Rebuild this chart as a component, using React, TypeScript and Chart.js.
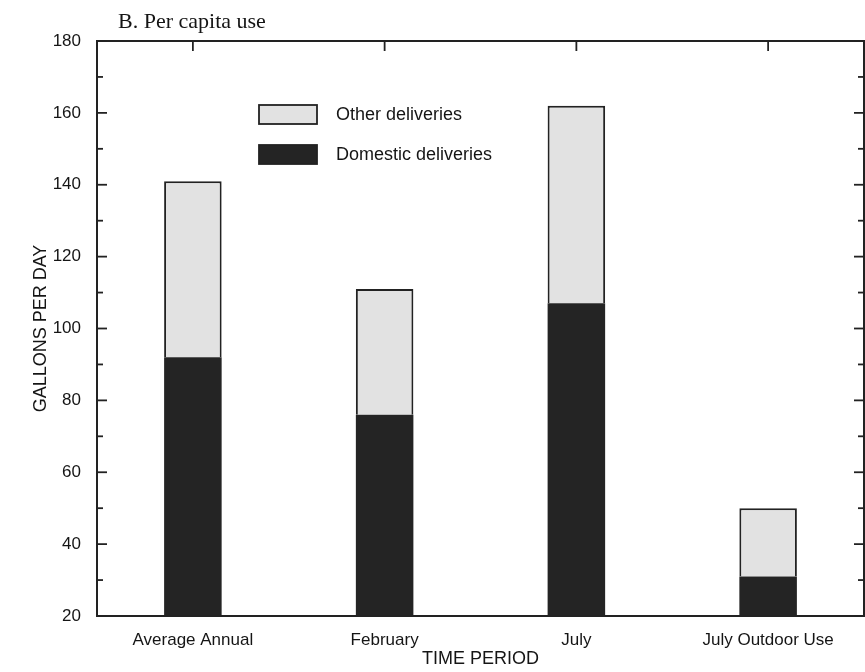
import { useEffect, useRef } from "react";
import { Chart, registerables } from "chart.js";

Chart.register(...registerables);

// ---- Data ----
const titleText = "B. Per capita use";
const categories = ["Average Annual", "February", "July", "July Outdoor Use"];
const domesticDeliveries = [92, 76, 107, 31];
const otherDeliveries = [49, 35, 55, 19];
const seriesLabels = ["Domestic deliveries", "Other deliveries"];
const yMin = 20;
const yMax = 180;
const yMinorStep = 10;
const yMajorStep = 20;
const xAxisTitle = "TIME PERIOD";
const yAxisTitle = "GALLONS PER DAY";

const INK = "#222222";
const TEXT = "#151515";
const DARK = "#242424";
const LIGHT = "#e2e2e2";
const SANS = "'Liberation Sans', Arial, Helvetica, sans-serif";
const SERIF = "'Liberation Serif', 'Times New Roman', serif";

const framePlugin = {
  id: "frame",
  afterDatasetsDraw(chart: any) {
    const { ctx, chartArea, scales } = chart;
    const { left, right, top, bottom } = chartArea;
    const x = scales.x;
    const y = scales.y;
    ctx.save();
    ctx.strokeStyle = INK;
    ctx.lineWidth = 2;
    ctx.strokeRect(left, top, right - left, bottom - top);
    ctx.lineWidth = 1.8;
    const line = (x1: number, y1: number, x2: number, y2: number) => {
      ctx.beginPath();
      ctx.moveTo(x1, y1);
      ctx.lineTo(x2, y2);
      ctx.stroke();
    };
    y.ticks.forEach((t: any) => {
      const py = y.getPixelForValue(t.value);
      const major = t.value % yMajorStep === 0;
      const len = major ? 10 : 6;
      line(left, py, left + len, py);
      line(right, py, right - len, py);
    });
    x.ticks.forEach((_t: any, i: number) => {
      const px = x.getPixelForTick(i);
      line(px, top, px, top + 10);
    });
    ctx.restore();
  },
  afterDraw(chart: any) {
    const { ctx, chartArea } = chart;
    const ds = chart.data.datasets;
    ctx.save();
    // Title
    ctx.fillStyle = TEXT;
    ctx.font = `22px ${SERIF}`;
    ctx.textBaseline = "alphabetic";
    ctx.textAlign = "left";
    ctx.fillText(titleText, chartArea.left + 21, 28);
    // Legend (Other first, then Domestic)
    const order = [1, 0];
    const boxX = chartArea.left + 162;
    const boxW = 58;
    const boxH = 19;
    const rowTops = [chartArea.top + 64, chartArea.top + 104];
    ctx.font = `18px ${SANS}`;
    ctx.textBaseline = "middle";
    order.forEach((di, row) => {
      const d = ds[di];
      const by = rowTops[row];
      ctx.fillStyle = d.backgroundColor;
      ctx.fillRect(boxX, by, boxW, boxH);
      ctx.strokeStyle = INK;
      ctx.lineWidth = 1.8;
      ctx.strokeRect(boxX, by, boxW, boxH);
      ctx.fillStyle = TEXT;
      ctx.fillText(d.label, boxX + boxW + 19, by + boxH / 2 + 1);
    });
    ctx.restore();
  },
};

export default function App() {
  const ref = useRef<HTMLCanvasElement | null>(null);
  useEffect(() => {
    if (!ref.current) return;
    const chart = new Chart(ref.current, {
      type: "bar",
      data: {
        labels: categories,
        datasets: [
          {
            label: seriesLabels[0],
            data: domesticDeliveries,
            backgroundColor: DARK,
            borderColor: DARK,
            borderWidth: 0,
          },
          {
            label: seriesLabels[1],
            data: otherDeliveries,
            backgroundColor: LIGHT,
            borderColor: INK,
            borderWidth: 2,
            borderSkipped: "start",
          },
        ],
      },
      options: {
        responsive: false,
        animation: false,
        devicePixelRatio: 1,
        layout: { padding: { top: 41, right: 1, left: 0, bottom: 0 } },
        datasets: {
          bar: { categoryPercentage: 1, barPercentage: 0.3 },
        },
        plugins: {
          legend: { display: false },
          title: { display: false },
          tooltip: { enabled: false },
        },
        scales: {
          x: {
            stacked: true,
            grid: { display: false },
            border: { display: false },
            ticks: {
              color: TEXT,
              font: { family: SANS, size: 17 },
              padding: 6,
              maxRotation: 0,
              autoSkip: false,
            },
            title: {
              display: true,
              text: xAxisTitle,
              color: TEXT,
              font: { family: SANS, size: 18 },
              padding: { top: 0, bottom: 2 },
            },
            afterFit(scale: any) {
              scale.height = 56;
            },
          },
          y: {
            stacked: true,
            min: yMin,
            max: yMax,
            grid: { display: false },
            border: { display: false },
            ticks: {
              stepSize: yMinorStep,
              autoSkip: false,
              color: TEXT,
              font: { family: SANS, size: 17 },
              padding: 8,
              callback: (v: any) => (Number(v) % yMajorStep === 0 ? String(v) : ""),
            },
            title: {
              display: true,
              text: yAxisTitle,
              color: TEXT,
              font: { family: SANS, size: 18 },
              padding: { top: 30, bottom: 0 },
            },
            afterFit(scale: any) {
              scale.width = 97;
            },
          },
        },
      },
      plugins: [framePlugin],
    });
    return () => chart.destroy();
  }, []);
  return (
    <div style={{ position: "fixed", left: 0, top: 0, width: 865, height: 672, background: "#fff" }}>
      <canvas ref={ref} width={865} height={672} style={{ width: 865, height: 672, display: "block" }} />
    </div>
  );
}
